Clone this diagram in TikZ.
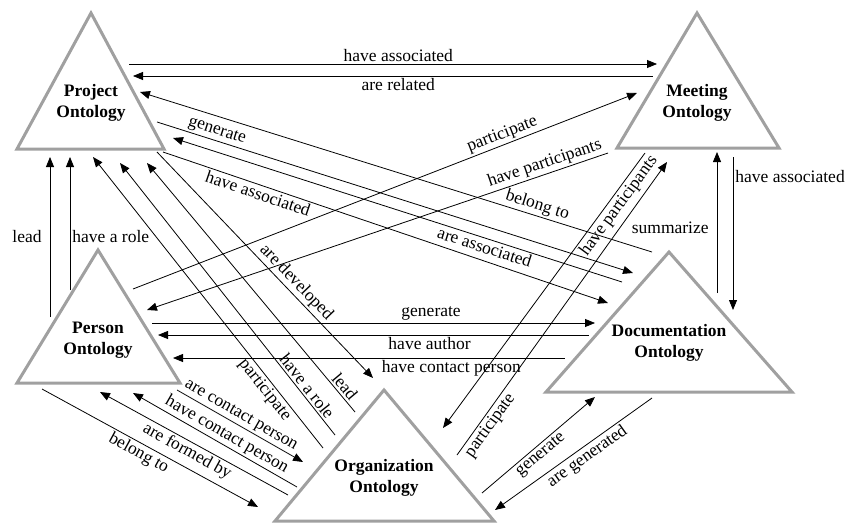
\documentclass[tikz,border=0pt]{standalone}
\usepackage{fontspec}
\setmainfont{Liberation Serif}
\usetikzlibrary{arrows.meta}

\begin{document}
\begin{tikzpicture}[x=1pt,y=-1pt,
  onto/.style={draw=ontogray,line width=3pt,line join=miter},
  ontolabel/.style={font=\fontsize{17.5}{21}\selectfont\bfseries,align=center,inner sep=0pt},
  rel/.style={line width=0.8pt,>={Triangle[length=10pt,width=8pt]}},
  rellabel/.style={font=\fontsize{17.5}{21}\selectfont,inner sep=2pt}]
\definecolor{ontogray}{RGB}{160,160,160}
\useasboundingbox (0,0) rectangle (850,524);

% the five ontologies
\draw[onto] (91,13) -- (164,149) -- (17,149) -- cycle;
\draw[onto] (697,13) -- (779,148) -- (617,148) -- cycle;
\draw[onto] (98,250) -- (180,383) -- (17,383) -- cycle;
\draw[onto] (669,252) -- (792,392) -- (546,392) -- cycle;
\draw[onto] (384,390) -- (494,521) -- (275,521) -- cycle;
\node[ontolabel] (project) at (91,103) {Project\\Ontology};
\node[ontolabel] (meeting) at (697,103) {Meeting\\Ontology};
\node[ontolabel] (person) at (98,340) {Person\\Ontology};
\node[ontolabel] (documentation) at (669,343) {Documentation\\Ontology};
\node[ontolabel] (organization) at (384,478) {Organization\\Ontology};

% end points
\coordinate (pm1) at (129,64);  \coordinate (mp1) at (657,64);
\coordinate (pm2) at (133,76);  \coordinate (mp2) at (653,76);
\coordinate (pd1) at (140,92);  \coordinate (dp1) at (652,252);
\coordinate (pd2) at (157,122); \coordinate (dp2) at (633,273);
\coordinate (pd3) at (173,138); \coordinate (dp3) at (622,282);
\coordinate (pd4) at (163,152); \coordinate (dp4) at (608,303);
\coordinate (pq1) at (50,157);  \coordinate (qp1) at (50,317);
\coordinate (pq2) at (70,157);  \coordinate (qp2) at (70,290);
\coordinate (po1) at (93,157);  \coordinate (op1) at (323,448);
\coordinate (po2) at (120,163); \coordinate (op2) at (335,435);
\coordinate (po3) at (147,163); \coordinate (op3) at (355,412);
\coordinate (po4) at (157,152); \coordinate (op4) at (373,378);
\coordinate (qm1) at (133,289); \coordinate (mq1) at (637,93);
\coordinate (qm2) at (147,310); \coordinate (mq2) at (608,153);
\coordinate (qd1) at (152,323); \coordinate (dq1) at (595,323);
\coordinate (qd2) at (158,335); \coordinate (dq2) at (589,335);
\coordinate (qd3) at (173,358); \coordinate (dq3) at (565,358);
\coordinate (qo1) at (177,390); \coordinate (oq1) at (303,462);
\coordinate (qo2) at (133,393); \coordinate (oq2) at (297,487);
\coordinate (qo3) at (100,392); \coordinate (oq3) at (288,495);
\coordinate (qo4) at (42,389);  \coordinate (oq4) at (258,507);
\coordinate (om1) at (443,428); \coordinate (mo1) at (645,153);
\coordinate (om2) at (457,455); \coordinate (mo2) at (667,162);
\coordinate (od1) at (482,493); \coordinate (do1) at (595,397);
\coordinate (od2) at (495,510); \coordinate (do2) at (652,398);
\coordinate (dm1) at (717,293); \coordinate (md1) at (717,152);
\coordinate (md2) at (733,157); \coordinate (dm2) at (733,310);

% project - meeting
\draw[rel,->] (pm1) -- node[rellabel,above,pos=.51] (l1) {have associated} (mp1);
\draw[rel,<-] (pm2) -- node[rellabel,below,pos=.51] (l2) {are related} (mp2);
% project - documentation
\draw[rel,<-] (pd1) -- node[rellabel,sloped,above,pos=.77] (l3) {belong to} (dp1);
\draw[rel,->] (pd2) -- node[rellabel,sloped,above,pos=.12] (l4) {generate} (dp2);
\draw[rel,<-] (pd3) -- node[rellabel,sloped,below,pos=.70] (l5) {are associated} (dp3);
\draw[rel,->] (pd4) -- node[rellabel,sloped,below,pos=.22] (l6) {have associated} (dp4);
% project - person
\draw[rel,->] (qp1) -- node[rellabel,left=6pt,pos=.5] (l7) {lead} (pq1);
\draw[rel,->] (qp2) -- node[rellabel,right,pos=.4] (l8) {have a role} (pq2);
% project - organization
\draw[rel,<-] (po1) -- node[rellabel,sloped,below,pos=.78] (l9) {participate} (op1);
\draw[rel,<-] (po2) -- node[rellabel,sloped,above,pos=.84] (l10) {have a role} (op2);
\draw[rel,<-] (po3) -- node[rellabel,sloped,above,pos=.92] (l11) {lead} (op3);
\draw[rel,->] (po4) -- node[rellabel,sloped,above,pos=.61] (l12) {are developed} (op4);
% person - meeting
\draw[rel,->] (qm1) -- node[rellabel,sloped,above,pos=.74] (l13) {participate} (mq1);
\draw[rel,<-] (qm2) -- node[rellabel,sloped,above,pos=.87] (l14) {have participants} (mq2);
% person - documentation
\draw[rel,->] (qd1) -- node[rellabel,above,pos=.63] (l15) {generate} (dq1);
\draw[rel,<-] (qd2) -- node[rellabel,below,pos=.63] (l16) {have author} (dq2);
\draw[rel,<-] (qd3) -- node[rellabel,below,pos=.71] (l17) {have contact person} (dq3);
% person - organization
\draw[rel,->] (qo1) -- node[rellabel,sloped,above,pos=.47] (l18) {are contact person} (oq1);
\draw[rel,<-] (qo2) -- node[rellabel,sloped,above,pos=.54] (l19) {have contact person} (oq2);
\draw[rel,<-] (qo3) -- node[rellabel,sloped,below,pos=.49] (l20) {are formed by} (oq3);
\draw[rel,->] (qo4) -- node[rellabel,sloped,below,pos=.47] (l21) {belong to} (oq4);
% meeting - organization
\draw[rel,<-] (om1) -- node[rellabel,sloped,below,pos=.83] (l22) {have participants} (mo1);
\draw[rel,->] (om2) -- node[rellabel,sloped,below,pos=.12] (l23) {participate} (mo2);
% organization - documentation
\draw[rel,->] (od1) -- node[rellabel,sloped,below,pos=.47] (l24) {generate} (do1);
\draw[rel,<-] (od2) -- node[rellabel,sloped,below,pos=.55] (l25) {are generated} (do2);
% meeting - documentation
\draw[rel,->] (dm1) -- node[rellabel,left=6pt,pos=.46] (l26) {summarize} (md1);
\draw[rel,->] (md2) -- node[rellabel,right,pos=.13] (l27) {have associated} (dm2);
\end{tikzpicture}
\end{document}
